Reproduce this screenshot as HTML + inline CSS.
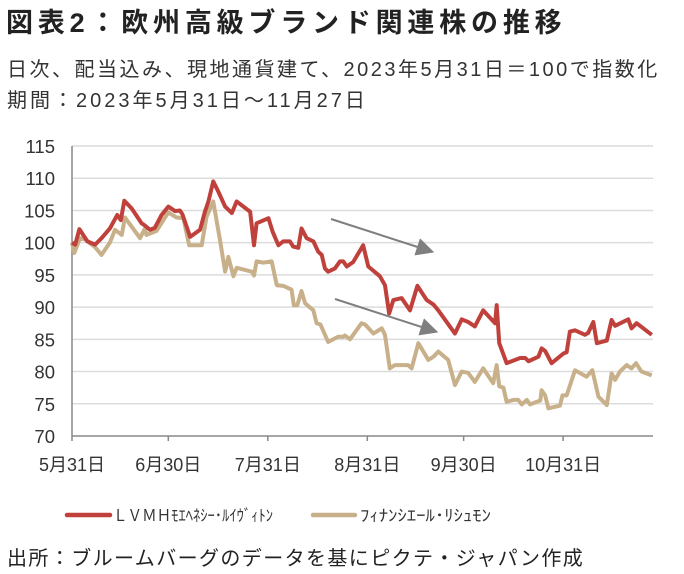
<!DOCTYPE html>
<html><head><meta charset="utf-8"><style>
body{margin:0;background:#fff;width:684px;height:574px;overflow:hidden;font-family:"Liberation Sans","Noto Sans CJK JP",sans-serif;color:#222}
.t{position:absolute;white-space:nowrap}
</style></head><body>
<div class="t" style="left:6px;top:1px;font-size:27px;letter-spacing:4.8px;font-weight:bold;color:#222">図表2：欧州高級ブランド関連株の推移</div>
<div class="t" style="left:7px;top:53px;font-size:20px;letter-spacing:2.5px;color:#333">日次、配当込み、現地通貨建て、2023年5月31日＝100で指数化</div>
<div class="t" style="left:7px;top:84px;font-size:20px;letter-spacing:3px;color:#333">期間：2023年5月31日～11月27日</div>
<svg id="c" width="684" height="574" style="position:absolute;left:0;top:0"></svg>
<div class="t" style="left:7px;top:542px;font-size:20px;letter-spacing:1.4px;color:#222">出所：ブルームバーグのデータを基にピクテ・ジャパン作成</div>
<script>
const yTicks=[70,75,80,85,90,95,100,105,110,115];
const xTickDays=[0,30,61,92,122,153];
const xTickLabels=["5月31日","6月30日","7月31日","8月31日","9月30日","10月31日"];
const lvDays=[0,1,2.3,4.8,7.2,9.2,11.8,14.1,15.2,16.3,18.6,21.7,22.6,24.3,25.8,27.9,30,32.1,33.6,34.4,36.8,39.9,41.4,42.5,44,45.6,47.7,49.8,51.3,55.5,56.7,57.5,61.2,62.5,64.3,65.8,67.9,68.9,70.5,71.5,73.1,75.2,76.7,77.8,78.8,79.8,81.9,83.5,84.5,85.6,87.6,90.7,92.3,95.9,97.5,98.8,100.1,102.7,105.3,107.6,110.5,112.6,114.1,119.3,121.4,123.4,125.5,128.1,131.8,132.3,133.1,135.4,139.6,141.2,142.2,145.3,146.3,147.4,149.4,153.1,154.1,155.1,156.7,159.8,160.8,162.4,163.5,166.6,168.1,169.2,173.3,174.3,175.9,180.6];
const lvVals=[100,99.7,102.1,100.2,99.7,100.7,102.2,104.3,103.5,106.5,105.3,103,102.7,102,102.3,104.3,105.6,104.9,105,104.4,100.9,102,104.8,106.4,109.5,107.9,105.6,104.6,106.4,104.8,99.6,103,103.8,101.7,99.6,100.2,100.2,99.4,99.2,102.2,100.7,100.2,98.6,98.1,96,95.5,96,97.1,97.1,96.3,97,99.6,96.3,94.8,93.4,89,91.1,91.4,89.5,93.3,91.1,90.4,89.5,85.9,88.1,87.7,87,89.5,87.5,90.3,84.4,81.3,82.1,82.1,81.6,82.3,83.6,83.2,81.3,82.8,83,86.2,86.4,85.7,86,87.7,84.4,84.8,88,87.1,88.1,86.7,87.5,85.7];
const crDays=[0,0.7,2.5,4.1,7.2,9.2,11.8,13.4,15.5,16.5,21.2,22.7,23.2,26.3,30,32.6,34.7,36.5,40.4,41.9,44,46.1,47.7,48.7,50.3,51.3,56,56.7,57.5,59.6,62.2,63.8,65.8,68.4,69.1,70.2,71.5,72.6,75.2,76.2,77.4,79.8,82.9,84.5,85,86.6,90.2,91.3,93.9,96.5,97.5,99,100.6,104.7,105.8,107.9,111,112.6,114.1,117.2,119.3,121.4,123.4,125.5,128.1,131.2,132.3,133.1,134.4,135.4,137.5,139,140.1,141.7,142.7,145.9,146.3,147.4,148.4,152,152.8,154.1,156.7,160.3,162.1,164,166.6,168.1,169.2,170.7,172.8,174.3,175.7,177.4,180.6];
const crVals=[100,98.4,100.7,100.5,99.3,98.1,100,102,101.2,103.9,100.7,102.2,101.2,101.8,104.7,103.9,103.8,99.6,99.6,104,106.4,100.4,95.5,97.8,94.8,96.1,95.5,94.9,97.1,96.9,97.1,93.4,93.3,92.7,90.3,90.3,92.5,90.6,89.5,87.5,87.3,84.6,85.4,85.4,85.6,85,87.5,87.3,85.9,86.7,85.7,80.5,81,81,80.5,84.4,81.8,82.3,83.1,81.8,77.9,80,79.8,78.4,80.5,78.2,81,77.7,77.5,75.3,75.6,75.6,74.9,75.6,74.9,75.5,77.1,76.3,74.3,74.7,76.3,76.3,80.2,79.2,80.2,76.1,74.8,79.7,78.7,80,81,80.5,81.3,80,79.4];
const NS='http://www.w3.org/2000/svg',svg=document.getElementById('c');
const X0=72,X1=653,PXD=3.21;
const xS=d=>X0+d*PXD, yS=v=>436-(v-70)*(290/45);
function mk(tag,a,p){const e=document.createElementNS(NS,tag);for(const k in a)e.setAttribute(k,a[k]);(p||svg).appendChild(e);return e;}
yTicks.forEach(v=>{
  if(v>70){const g=mk('line',{x1:X0,x2:X1,y1:yS(v),y2:yS(v),stroke:'#dcdcdc','stroke-width':1.5});
  
  }
  const t=mk('text',{x:55,y:yS(v)+7,'text-anchor':'end','font-size':18.5,fill:'#333','font-family':'Liberation Sans, sans-serif'});t.textContent=v;
  
  
});
const ax=mk('line',{x1:X0,x2:X1,y1:436,y2:436,stroke:'#888','stroke-width':1.5});


const ay=mk('line',{x1:X0,x2:X0,y1:146,y2:436,stroke:'#888','stroke-width':1.5});


xTickDays.forEach((d,i)=>{
  mk('line',{x1:xS(d),x2:xS(d),y1:436,y2:441,stroke:'#888','stroke-width':1.5});
  const t=mk('text',{x:xS(d),y:471,'text-anchor':'middle','font-size':18,fill:'#333','font-family':'Liberation Sans, Noto Sans CJK JP, sans-serif'});t.textContent=xTickLabels[i];
  
  
});
function line(days,vals,col,name){
  const p=mk('polyline',{points:days.map((d,i)=>xS(d)+','+yS(vals[i])).join(' '),fill:'none',stroke:col,'stroke-width':4,'stroke-linejoin':'round'});
  
  
}
line(crDays,crVals,'#c8b08a','richemont-line');
line(lvDays,lvVals,'#c0413b','lvmh-line');
const defs=mk('defs',{});
const m=mk('marker',{id:'ah',markerWidth:18,markerHeight:18,refX:6,refY:4,orient:'auto',markerUnits:'userSpaceOnUse',viewBox:'0 0 8 8'},defs);
mk('path',{d:'M0,0 L8,4 L0,8 Z',fill:'#7f7f7f'},m);
const a1=mk('line',{x1:331,y1:219,x2:430,y2:251,stroke:'#7f7f7f','stroke-width':2,'marker-end':'url(#ah)'});


const a2=mk('line',{x1:335,y1:299,x2:434,y2:331,stroke:'#7f7f7f','stroke-width':2,'marker-end':'url(#ah)'});


const l1=mk('line',{x1:67,x2:110,y1:515,y2:515,stroke:'#c0413b','stroke-width':4.5,'stroke-linecap':'round'});


const t1=mk('text',{x:113,y:521,'font-size':16,fill:'#333','font-family':'Liberation Sans, Noto Sans CJK JP, sans-serif',textLength:160,lengthAdjust:'spacingAndGlyphs'});t1.textContent='ＬＶＭＨﾓｴﾍﾈｼｰ･ﾙｲｳﾞｨﾄﾝ';


const l2=mk('line',{x1:313,x2:355,y1:515,y2:515,stroke:'#c8b08a','stroke-width':4.5,'stroke-linecap':'round'});


const t2=mk('text',{x:360,y:521,'font-size':16,fill:'#333','font-family':'Liberation Sans, Noto Sans CJK JP, sans-serif',textLength:131,lengthAdjust:'spacingAndGlyphs'});t2.textContent='ﾌｨﾅﾝｼｴｰﾙ･ﾘｼｭﾓﾝ';


</script>
</body></html>
